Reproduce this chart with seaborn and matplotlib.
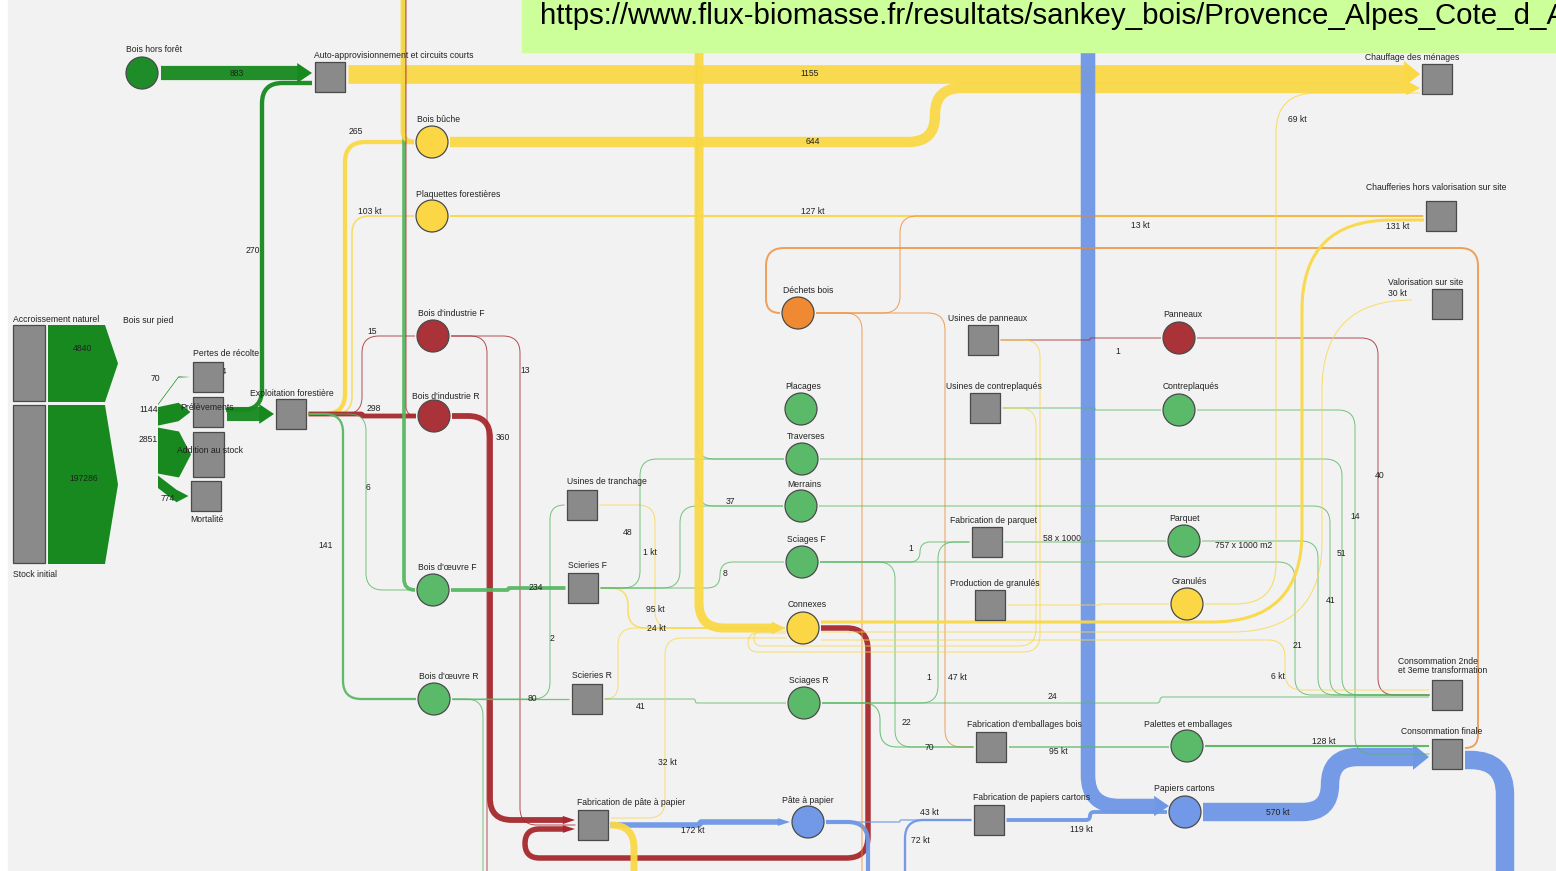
# plot.py
# ─────────────────────────────────────────────────────────────
# Flux de biomasse bois, Provence-Alpes-Côte d'Azur (sankey)
# Run: python plot.py  ->  out.png
# ─────────────────────────────────────────────────────────────

import numpy as np
import pandas as pd
import matplotlib
matplotlib.use('Agg')
import matplotlib.pyplot as plt
import seaborn as sns
from matplotlib.path import Path
from matplotlib.patches import PathPatch, Polygon, Rectangle

sns.set_theme(style='white')
plt.rcParams['font.family'] = ['Liberation Sans', 'DejaVu Sans']

# ── Data: nodes ───────────────────────────────────────────────
CONSO2 = 'Consommation 2nde\net 3eme transformation'
node_names = [
    'Accroissement naturel', 'Stock initial', 'Bois sur pied',
    'Pertes de récolte', 'Prélèvements', 'Addition au stock', 'Mortalité',
    'Exploitation forestière', 'Bois hors forêt',
    'Auto-approvisionnement et circuits courts',
    'Bois bûche', 'Plaquettes forestières',
    "Bois d'industrie F", "Bois d'industrie R", "Bois d'œuvre F", "Bois d'œuvre R",
    'Usines de tranchage', 'Scieries F', 'Scieries R', 'Fabrication de pâte à papier',
    'Déchets bois', 'Placages', 'Traverses', 'Merrains', 'Sciages F', 'Connexes',
    'Sciages R', 'Pâte à papier',
    'Usines de panneaux', 'Usines de contreplaqués', 'Fabrication de parquet',
    'Production de granulés', "Fabrication d'emballages bois",
    'Fabrication de papiers cartons',
    'Panneaux', 'Contreplaqués', 'Parquet', 'Granulés', 'Palettes et emballages',
    'Papiers cartons',
    'Chauffage des ménages', 'Chaufferies hors valorisation sur site',
    'Valorisation sur site', CONSO2, 'Consommation finale',
    # hors cadre
    'Apport bois bûche', "Apport bois d'œuvre", "Apport bois d'industrie",
    'Apport connexes', 'Apport sciages', 'Apport papiers', 'Apport pâte',
    'Sortie pâte', 'Sortie connexes', 'Sortie industrie', 'Sortie œuvre',
    'Sortie déchets', 'Sortie papiers',
]
node_kind = [
    'r', 'r', 'v', 's', 's', 'r', 's', 's', 'c', 's',
    'c', 'c', 'c', 'c', 'c', 'c',
    's', 's', 's', 's',
    'c', 'c', 'c', 'c', 'c', 'c', 'c', 'c',
    's', 's', 's', 's', 's', 's',
    'c', 'c', 'c', 'c', 'c', 'c',
    's', 's', 's', 's', 's',
    'top', 'top', 'top', 'top', 'top', 'top', 'bot',
    'bot', 'bot', 'bot', 'bot', 'bot', 'bot',
]
node_group = [
    'gris', 'gris', 'foret', 'gris', 'gris', 'gris', 'gris', 'gris', 'foret', 'gris',
    'energie', 'energie', 'industrie', 'industrie', 'oeuvre', 'oeuvre',
    'gris', 'gris', 'gris', 'gris',
    'dechets', 'oeuvre', 'oeuvre', 'oeuvre', 'oeuvre', 'energie', 'oeuvre', 'papier',
    'gris', 'gris', 'gris', 'gris', 'gris', 'gris',
    'industrie', 'oeuvre', 'oeuvre', 'energie', 'oeuvre', 'papier',
    'gris', 'gris', 'gris', 'gris', 'gris',
    'energie', 'oeuvre', 'industrie', 'energie', 'oeuvre', 'papier', 'papier',
    'papier', 'energie', 'industrie', 'oeuvre', 'dechets', 'papier',
]

# ── Data: flows (kt) ──────────────────────────────────────────
link_src = [
    'Accroissement naturel', 'Stock initial',
    'Bois sur pied', 'Bois sur pied', 'Bois sur pied', 'Bois sur pied',
    'Prélèvements', 'Prélèvements', 'Bois hors forêt',
    'Auto-approvisionnement et circuits courts',
    'Exploitation forestière', 'Exploitation forestière', 'Exploitation forestière',
    'Exploitation forestière', 'Exploitation forestière', 'Exploitation forestière',
    "Apport bois d'œuvre", 'Apport bois bûche', "Apport bois d'industrie",
    'Bois bûche', 'Plaquettes forestières',
    "Bois d'industrie R", "Bois d'industrie F", "Bois d'industrie F",
    "Bois d'œuvre F", "Bois d'œuvre R", "Bois d'œuvre R", "Bois d'œuvre R",
    'Scieries F', 'Scieries R', 'Usines de tranchage', 'Scieries F', 'Scieries F',
    'Scieries F', 'Apport sciages', 'Apport sciages', 'Apport connexes', 'Scieries R',
    'Connexes', 'Connexes', 'Fabrication de pâte à papier',
    'Fabrication de pâte à papier', 'Pâte à papier', 'Pâte à papier', 'Apport pâte',
    'Fabrication de papiers cartons', 'Apport papiers', 'Papiers cartons',
    'Consommation finale', 'Consommation finale',
    'Déchets bois', 'Déchets bois', 'Déchets bois',
    'Sciages F', 'Sciages R', 'Sciages F', 'Sciages R', 'Sciages R', 'Sciages F',
    'Fabrication de parquet', 'Parquet', "Fabrication d'emballages bois",
    'Palettes et emballages',
    'Usines de panneaux', 'Usines de contreplaqués', 'Usines de panneaux',
    'Usines de contreplaqués',
    'Panneaux', 'Contreplaqués', 'Traverses', 'Merrains',
    'Connexes', 'Granulés', 'Connexes', 'Connexes', 'Production de granulés',
]
link_tgt = [
    'Bois sur pied', 'Bois sur pied',
    'Pertes de récolte', 'Prélèvements', 'Addition au stock', 'Mortalité',
    'Exploitation forestière', 'Auto-approvisionnement et circuits courts',
    'Auto-approvisionnement et circuits courts', 'Chauffage des ménages',
    'Bois bûche', 'Plaquettes forestières', "Bois d'industrie F",
    "Bois d'industrie R", "Bois d'œuvre F", "Bois d'œuvre R",
    "Bois d'œuvre F", 'Bois bûche', "Bois d'industrie R",
    'Chauffage des ménages', 'Chaufferies hors valorisation sur site',
    'Fabrication de pâte à papier', 'Fabrication de pâte à papier', 'Sortie industrie',
    'Scieries F', 'Scieries R', 'Usines de tranchage', 'Sortie œuvre',
    'Connexes', 'Connexes', 'Connexes', 'Traverses', 'Merrains',
    'Sciages F', 'Merrains', 'Traverses', 'Connexes', 'Sciages R',
    'Fabrication de pâte à papier', 'Fabrication de pâte à papier', 'Pâte à papier',
    'Sortie connexes', 'Fabrication de papiers cartons', 'Sortie pâte',
    'Fabrication de papiers cartons',
    'Papiers cartons', 'Papiers cartons', 'Consommation finale',
    'Sortie papiers', 'Déchets bois',
    'Chaufferies hors valorisation sur site', "Fabrication d'emballages bois",
    'Sortie déchets',
    'Fabrication de parquet', 'Fabrication de parquet',
    "Fabrication d'emballages bois", "Fabrication d'emballages bois", CONSO2, CONSO2,
    'Parquet', CONSO2, 'Palettes et emballages', 'Consommation finale',
    'Panneaux', 'Contreplaqués', 'Connexes', 'Connexes',
    CONSO2, 'Consommation finale', CONSO2, CONSO2,
    'Chaufferies hors valorisation sur site', 'Chauffage des ménages',
    'Valorisation sur site', CONSO2, 'Granulés',
]
link_val = [
    4840, 197286,
    70, 1144, 2851, 774,
    874, 270, 883, 1155,
    265, 103, 15, 298, 6, 141,
    228, 300, 4,
    644, 127,
    360, 13, 4,
    234, 80, 2, 3,
    95, 24, 1, 48, 3, 8, 37, 5, 560, 41,
    340, 32, 172, 430, 43, 129, 72,
    119, 451, 570, 570, 120,
    13, 47, 40,
    1, 1, 22, 70, 24, 21,
    58, 12, 95, 128,
    1, 2, 3, 2,
    40, 14, 51, 41,
    190, 69, 30, 6, 40,
]
link_lbl = [
    '4840', '197286',
    '70', '1144', '2851', '774',
    '874', '270', '883', '1155',
    '265', '103 kt', '15', '298', '6', '141',
    '', '', '',
    '644', '127 kt',
    '360', '13', '',
    '234', '80', '2', '',
    '95 kt', '24 kt', '1 kt', '48', '', '8', '37', '', '', '41',
    '', '32 kt', '172 kt', '', '43 kt', '', '72 kt',
    '119 kt', '', '570 kt', '', '',
    '13 kt', '47 kt', '',
    '1', '1', '22', '70', '24', '21',
    '58 x 1000', '757 x 1000 m2', '95 kt', '128 kt',
    '1', '', '', '',
    '40', '14', '51', '41',
    '131 kt', '69 kt', '30 kt', '6 kt', '',
]
link_grp = [
    'foret', 'foret',
    'foret', 'foret', 'foret', 'foret',
    'foret', 'foret', 'foret', 'energie',
    'energie', 'energie', 'industrie', 'industrie', 'oeuvre', 'oeuvre',
    'oeuvre', 'energie', 'industrie',
    'energie', 'energie',
    'industrie', 'industrie', 'industrie',
    'oeuvre', 'oeuvre', 'oeuvre', 'oeuvre',
    'energie', 'energie', 'energie', 'oeuvre', 'oeuvre', 'oeuvre', 'oeuvre', 'oeuvre',
    'energie', 'oeuvre',
    'industrie', 'energie', 'papier', 'energie', 'papier', 'papier', 'papier',
    'papier', 'papier', 'papier', 'papier', 'dechets',
    'dechets', 'dechets', 'dechets',
    'oeuvre', 'oeuvre', 'oeuvre', 'oeuvre', 'oeuvre', 'oeuvre',
    'oeuvre', 'oeuvre', 'oeuvre', 'oeuvre',
    'industrie', 'oeuvre', 'energie', 'energie',
    'industrie', 'oeuvre', 'oeuvre', 'oeuvre',
    'energie', 'energie', 'energie', 'energie', 'energie',
]

URL = 'https://www.flux-biomasse.fr/resultats/sankey_bois/Provence_Alpes_Cote_d_A'

# ── Styles ────────────────────────────────────────────────────
COL = {
    'gris': '#8a8a8a', 'foret': '#17891f', 'energie': '#fad846',
    'industrie': '#a6282e', 'oeuvre': '#57b762', 'dechets': '#ef8a33',
    'papier': '#6e97e6',
}
NODE_COL = dict(COL, foret='#1f8c2a', industrie='#a93338', oeuvre='#5bb96a',
                energie='#fbd645', papier='#7199e8')
PX_PER_KT = 1 / 62
GRP_SCALE = {'papier': 2.0}

# ── Layout (pixels, y down) ───────────────────────────────────
NODE_XY = {
    'Bois sur pied': (158, 404),
    'Pertes de récolte': (208, 377), 'Prélèvements': (208, 412),
    'Mortalité': (206, 496), 'Exploitation forestière': (291, 414),
    'Bois hors forêt': (142, 73), 'Auto-approvisionnement et circuits courts': (330, 77),
    'Bois bûche': (432, 142), 'Plaquettes forestières': (432, 216),
    "Bois d'industrie F": (433, 336), "Bois d'industrie R": (434, 416),
    "Bois d'œuvre F": (433, 590), "Bois d'œuvre R": (434, 699),
    'Usines de tranchage': (582, 505), 'Scieries F': (583, 588),
    'Scieries R': (587, 699), 'Fabrication de pâte à papier': (593, 825),
    'Déchets bois': (798, 313), 'Placages': (801, 409), 'Traverses': (802, 459),
    'Merrains': (801, 506), 'Sciages F': (802, 562), 'Connexes': (803, 628),
    'Sciages R': (804, 703), 'Pâte à papier': (808, 822),
    'Usines de panneaux': (983, 340), 'Usines de contreplaqués': (985, 408),
    'Fabrication de parquet': (987, 542), 'Production de granulés': (990, 605),
    "Fabrication d'emballages bois": (991, 747), 'Fabrication de papiers cartons': (989, 820),
    'Panneaux': (1179, 338), 'Contreplaqués': (1179, 410), 'Parquet': (1184, 541),
    'Granulés': (1187, 604), 'Palettes et emballages': (1187, 746),
    'Papiers cartons': (1185, 812),
    'Chauffage des ménages': (1437, 79), 'Chaufferies hors valorisation sur site': (1441, 216),
    'Valorisation sur site': (1447, 304), CONSO2: (1447, 695),
    'Consommation finale': (1447, 754),
    'Apport bois bûche': (403, -10), "Apport bois d'œuvre": (404, -10),
    "Apport bois d'industrie": (406, -10), 'Apport connexes': (699, -10),
    'Apport sciages': (697, -10), 'Apport papiers': (1088, -10), 'Apport pâte': (905, 885),
    'Sortie pâte': (868, 885), 'Sortie connexes': (634, 885), 'Sortie industrie': (487, 885),
    'Sortie œuvre': (483, 885), 'Sortie déchets': (862, 885), 'Sortie papiers': (1505, 885),
}
RECT_BOX = {  # x0, y0, w, h
    'Accroissement naturel': (13, 325, 32, 76),
    'Stock initial': (13, 405, 32, 158),
    'Addition au stock': (193, 432, 31, 45),
}
for _n, (_x, _y, _w, _h) in RECT_BOX.items():
    NODE_XY[_n] = (_x + _w / 2, _y + _h / 2)

NODE_LABEL = {  # x, y, ha
    'Accroissement naturel': (13, 319, 'left'), 'Stock initial': (13, 574, 'left'),
    'Bois sur pied': (123, 320, 'left'), 'Pertes de récolte': (193, 353, 'left'),
    'Prélèvements': (180, 407, 'left'), 'Addition au stock': (177, 450, 'left'),
    'Mortalité': (190, 519, 'left'), 'Exploitation forestière': (250, 393, 'left'),
    'Bois hors forêt': (126, 50, 'left'),
    'Auto-approvisionnement et circuits courts': (314, 55, 'left'),
    'Bois bûche': (417, 119, 'left'), 'Plaquettes forestières': (416, 194, 'left'),
    "Bois d'industrie F": (418, 313, 'left'), "Bois d'industrie R": (412, 396, 'left'),
    "Bois d'œuvre F": (418, 567, 'left'), "Bois d'œuvre R": (419, 676, 'left'),
    'Usines de tranchage': (567, 481, 'left'), 'Scieries F': (568, 565, 'left'),
    'Scieries R': (572, 675, 'left'), 'Fabrication de pâte à papier': (577, 802, 'left'),
    'Déchets bois': (783, 290, 'left'), 'Placages': (785, 386, 'left'),
    'Traverses': (787, 436, 'left'), 'Merrains': (787, 484, 'left'),
    'Sciages F': (787, 539, 'left'), 'Connexes': (788, 604, 'left'),
    'Sciages R': (789, 680, 'left'), 'Pâte à papier': (782, 800, 'left'),
    'Usines de panneaux': (948, 318, 'left'), 'Usines de contreplaqués': (946, 386, 'left'),
    'Fabrication de parquet': (950, 520, 'left'), 'Production de granulés': (950, 583, 'left'),
    "Fabrication d'emballages bois": (967, 724, 'left'),
    'Fabrication de papiers cartons': (973, 797, 'left'),
    'Panneaux': (1163, 314, 'left'), 'Contreplaqués': (1163, 386, 'left'),
    'Parquet': (1169, 518, 'left'), 'Granulés': (1172, 581, 'left'),
    'Palettes et emballages': (1144, 724, 'left'), 'Papiers cartons': (1154, 788, 'left'),
    'Chauffage des ménages': (1365, 57.5, 'left'),
    'Chaufferies hors valorisation sur site': (1366, 188, 'left'),
    'Valorisation sur site': (1388, 282, 'left'), CONSO2: (1398, 666, 'left'),
    'Consommation finale': (1401, 731, 'left'),
}

# vertical lane x of ordinary links
LINK_VIA = {
    ('Exploitation forestière', 'Bois bûche'): 345,
    ('Exploitation forestière', 'Plaquettes forestières'): 352,
    ('Exploitation forestière', "Bois d'industrie F"): 362,
    ('Exploitation forestière', "Bois d'œuvre F"): 366,
    ('Exploitation forestière', "Bois d'œuvre R"): 343,
    ("Bois d'industrie F", 'Fabrication de pâte à papier'): 520,
    ("Bois d'œuvre R", 'Usines de tranchage'): 550,
    ('Scieries F', 'Connexes'): 628, ('Scieries R', 'Connexes'): 618,
    ('Usines de tranchage', 'Connexes'): 655,
    ('Scieries F', 'Traverses'): 640, ('Scieries F', 'Merrains'): 680,
    ('Scieries F', 'Sciages F'): 720,
    ('Sciages F', 'Fabrication de parquet'): 920, ('Sciages R', 'Fabrication de parquet'): 938,
    ('Sciages F', "Fabrication d'emballages bois"): 895,
    ('Sciages R', "Fabrication d'emballages bois"): 880,
    ('Sciages F', CONSO2): 1295, ('Parquet', CONSO2): 1318, ('Panneaux', CONSO2): 1378,
    ('Contreplaqués', 'Consommation finale'): 1355, ('Traverses', CONSO2): 1342,
    ('Merrains', CONSO2): 1330,
    ('Déchets bois', 'Chaufferies hors valorisation sur site'): 900,
    ('Déchets bois', "Fabrication d'emballages bois"): 945,
    ('Usines de panneaux', 'Panneaux'): 1090, ('Usines de contreplaqués', 'Contreplaqués'): 1095,
    ('Fabrication de parquet', 'Parquet'): 1090, ('Production de granulés', 'Granulés'): 1100,
    ('Pâte à papier', 'Fabrication de papiers cartons'): 900,
    ('Fabrication de papiers cartons', 'Papiers cartons'): 1090,
    ('Fabrication de pâte à papier', 'Pâte à papier'): 700,
}
# links with a hand-drawn route (key includes group)
LINK_PATH = {
    ('Bois hors forêt', 'Auto-approvisionnement et circuits courts', 'foret'): [(161, 73), (312, 73)],
    ('Prélèvements', 'Auto-approvisionnement et circuits courts', 'foret'):
        [(226, 410), (262, 410), (262, 83), (312, 83)],
    ('Prélèvements', 'Exploitation forestière', 'foret'): [(227, 414), (274, 414)],
    ('Auto-approvisionnement et circuits courts', 'Chauffage des ménages', 'energie'):
        [(348, 74), (1420, 74)],
    ('Bois bûche', 'Chauffage des ménages', 'energie'):
        [(450, 142), (935, 142), (935, 88), (1420, 88)],
    ('Granulés', 'Chauffage des ménages', 'energie'):
        [(1205, 604), (1276, 604), (1276, 93), (1420, 93)],
    ('Consommation finale', 'Déchets bois', 'dechets'):
        [(1465, 748), (1478, 748), (1478, 248), (766, 248), (766, 313), (780, 313)],
    ('Connexes', 'Fabrication de pâte à papier', 'industrie'):
        [(821, 628), (868, 628), (868, 858), (525, 858), (525, 829), (575, 829)],
    ('Connexes', 'Fabrication de pâte à papier', 'energie'):
        [(787, 638), (665, 638), (665, 818), (611, 818)],
    ("Bois d'industrie R", 'Fabrication de pâte à papier', 'industrie'):
        [(452, 416), (490, 416), (490, 820), (575, 820)],
    ('Usines de panneaux', 'Connexes', 'energie'):
        [(1001, 340), (1040, 340), (1040, 652), (748, 652), (748, 633), (786, 633)],
    ('Usines de contreplaqués', 'Connexes', 'energie'):
        [(1003, 408), (1036, 408), (1036, 646), (754, 646), (754, 631), (786, 631)],
    ('Connexes', 'Chaufferies hors valorisation sur site', 'energie'):
        [(821, 622), (1302, 622), (1302, 220), (1424, 220)],
    ('Connexes', 'Valorisation sur site', 'energie'):
        [(821, 632), (1322, 632), (1322, 300), (1412, 300)],
    ('Connexes', CONSO2, 'energie'): [(821, 640), (1285, 640), (1285, 690), (1429, 690)],
    ('Sciages R', CONSO2, 'oeuvre'): [(822, 703), (1160, 703), (1160, 697), (1429, 697)],
    ('Palettes et emballages', 'Consommation finale', 'oeuvre'): [(1205, 746), (1429, 746)],
    ("Fabrication d'emballages bois", 'Palettes et emballages', 'oeuvre'):
        [(1009, 747), (1169, 747)],
    ('Papiers cartons', 'Consommation finale', 'papier'):
        [(1203, 812), (1330, 812), (1330, 757), (1429, 757)],
    ('Apport papiers', 'Papiers cartons', 'papier'): [(1088, -10), (1088, 806), (1169, 806)],
    ('Consommation finale', 'Sortie papiers', 'papier'): [(1465, 760), (1505, 760), (1505, 885)],
}
LINK_RADIUS = {
    ('Connexes', 'Chaufferies hors valorisation sur site', 'energie'): 90,
    ('Connexes', 'Valorisation sur site', 'energie'): 90,
    ('Granulés', 'Chauffage des ménages', 'energie'): 40,
    ('Papiers cartons', 'Consommation finale', 'papier'): 40,
}
LINK_LABEL_XY = {
    '4840': (83, 348), '197286': (84, 478), '70': (155, 378), '1144': (149, 409),
    '2851': (148, 439), '774': (168, 498), '874': (220, 371), '270': (253, 250),
    '883': (237, 73), '1155': (810, 74), '265': (356, 131), '103 kt': (370, 211),
    '15': (372, 331), '298': (374, 408), '6': (368, 487), '141': (326, 545),
    '644': (813, 141), '127 kt': (813, 211), '360': (503, 437), '13': (525, 370),
    '234': (536, 587), '80': (532, 698), '2': (552, 638), '95 kt': (655, 609),
    '24 kt': (656, 628), '1 kt': (650, 552), '48': (628, 532), '8': (725, 573),
    '37': (730, 501), '41': (641, 706), '32 kt': (667, 762), '172 kt': (693, 830),
    '43 kt': (929, 812), '72 kt': (920, 840), '119 kt': (1081, 829), '570 kt': (1278, 812),
    '13 kt': (1140, 225), '47 kt': (957, 677), '22': (906, 722), '70 ': (929, 747),
    '24': (1052, 696), '21': (1297, 645), '58 x 1000': (1062, 538),
    '757 x 1000 m2': (1244, 545), '95 kt ': (1058, 751), '128 kt': (1324, 741),
    '40': (1380, 475), '14': (1355, 516), '51': (1341, 553), '41 ': (1331, 600),
    '131 kt': (1398, 226), '69 kt': (1297, 119), '30 kt': (1397, 293), '6 kt': (1278, 676),
}
# labels used twice get a distinct key by link
LABEL_KEY = {
    ('Sciages R', "Fabrication d'emballages bois"): '70 ',
    ("Fabrication d'emballages bois", 'Palettes et emballages'): '95 kt ',
    ('Merrains', CONSO2): '41 ',
    ('Sciages F', 'Fabrication de parquet'): '1a',
    ('Sciages R', 'Fabrication de parquet'): '1b',
    ('Usines de panneaux', 'Panneaux'): '1c',
}
LINK_LABEL_XY.update({'1a': (911, 548), '1b': (929, 677), '1c': (1118, 351)})

KIND = dict(zip(node_names, node_kind))
GROUP = dict(zip(node_names, node_group))


def half(name):
    k = KIND[name]
    if k == 'c':
        return 16
    if k == 's':
        return 15.5
    if k == 'r':
        return RECT_BOX[name][2] / 2
    return 0


def route(s, t, grp):
    if (s, t, grp) in LINK_PATH:
        return LINK_PATH[(s, t, grp)]
    sx, sy = NODE_XY[s]
    tx, ty = NODE_XY[t]
    if KIND[s] in ('top', 'bot'):
        return [(sx, sy), (sx, ty), (tx - half(t) - 2, ty)]
    x0 = sx + half(s) + 2
    if KIND[t] == 'bot':
        return [(x0, sy), (tx, sy), (tx, ty)]
    x1 = tx - half(t) - 2
    if abs(sy - ty) < 0.5:
        return [(x0, sy), (x1, ty)]
    vx = LINK_VIA.get((s, t), (x0 + x1) / 2)
    return [(x0, sy), (vx, sy), (vx, ty), (x1, ty)]


def rounded(pts, R):
    verts, codes = [pts[0]], [Path.MOVETO]
    for i in range(1, len(pts) - 1):
        p0, p1, p2 = (np.array(p, float) for p in pts[i - 1:i + 2])
        d1, d2 = p1 - p0, p2 - p1
        l1, l2 = np.hypot(*d1), np.hypot(*d2)
        r = min(R, l1 / 2 if i > 1 else l1, l2 / 2 if i < len(pts) - 2 else l2)
        a, b = p1 - d1 / l1 * r, p1 + d2 / l2 * r
        verts += [tuple(a), tuple(p1), tuple(b)]
        codes += [Path.LINETO, Path.CURVE3, Path.CURVE3]
    verts.append(pts[-1])
    codes.append(Path.LINETO)
    return Path(verts, codes)


# ── Figure ────────────────────────────────────────────────────
fig = plt.figure(figsize=(15.56, 8.71), dpi=100, facecolor='white')
ax = fig.add_axes([0, 0, 1, 1])
ax.set_xlim(0, 1556)
ax.set_ylim(871, 0)
ax.axis('off')
ax.add_patch(Rectangle((8, 0), 1548, 871, color='#f2f2f2', zorder=0))

FS = 6.2
wedge_y = NODE_XY['Bois sur pied'][1]

for s, t, v, lbl, g in zip(link_src, link_tgt, link_val, link_lbl, link_grp):
    c = COL[g]
    w = max(v * PX_PER_KT * GRP_SCALE.get(g, 1), 1.0)
    if t == 'Bois sur pied':
        # broad arrow out of the stock boxes
        x0, y0, bw, bh = RECT_BOX[s]
        h = min(w, bh + 1)
        xl = x0 + bw + 3
        ax.add_patch(Polygon([(xl, y0), (xl + 57, y0), (xl + 70, y0 + h / 2),
                              (xl + 57, y0 + h), (xl, y0 + h)], color=c, lw=0, zorder=2))
    elif s == 'Bois sur pied':
        tx, ty = NODE_XY[t]
        x1 = tx - half(t) - 2
        x0 = NODE_XY[s][0]
        ax.add_patch(Polygon([(x0, wedge_y), (x1 - 12, ty - w / 2), (x1, ty),
                              (x1 - 12, ty + w / 2), (x0, wedge_y + w)],
                             color=c, lw=0, zorder=2))
        wedge_y += w + 2
    else:
        pts = [tuple(p) for p in route(s, t, g)]
        arrow = (w >= 5 and KIND[t] != 'bot' and pts[-1][1] == pts[-2][1]
                 and pts[-1][0] > pts[-2][0])
        if arrow:
            al = 10 + w * 0.3
            ex, ey = pts[-1]
            pts[-1] = (ex - al, ey)
            ax.add_patch(Polygon([(ex - al - 0.5, ey - w * 0.7), (ex, ey),
                                  (ex - al - 0.5, ey + w * 0.7)], color=c, lw=0, zorder=2))
        R = LINK_RADIUS.get((s, t, g), 16 + w)
        ax.add_patch(PathPatch(rounded(pts, R), fill=False, edgecolor=c, lw=w * 0.72,
                               alpha=0.95 if w >= 2 else 0.8, capstyle='butt',
                               joinstyle='round', zorder=2))
    if lbl:
        key = LABEL_KEY.get((s, t), lbl)
        lx, ly = LINK_LABEL_XY[key]
        ax.text(lx, ly, lbl, fontsize=FS, color='#222222', ha='center', va='center', zorder=3)

# ── Nodes ─────────────────────────────────────────────────────
nodes = pd.DataFrame({'name': node_names, 'kind': node_kind, 'group': node_group})
nodes = nodes[nodes['kind'].isin(['c', 's'])].copy()
nodes['x'] = [NODE_XY[n][0] for n in nodes['name']]
nodes['y'] = [NODE_XY[n][1] for n in nodes['name']]
sns.scatterplot(data=nodes, x='x', y='y', hue='group', palette=NODE_COL,
                style='kind', markers={'c': 'o', 's': 's'},
                size='kind', sizes={'c': 530, 's': 490},
                edgecolor='#4a4a4a', linewidth=0.9, legend=False, ax=ax, zorder=5)
ax.set_xlim(0, 1556)
ax.set_ylim(871, 0)
ax.axis('off')
for n, (x0, y0, bw, bh) in RECT_BOX.items():
    ax.add_patch(Rectangle((x0, y0), bw, bh, facecolor=COL['gris'], edgecolor='#4a4a4a',
                           lw=0.9, zorder=5))

for n, (lx, ly, ha) in NODE_LABEL.items():
    ax.text(lx, ly, n, fontsize=FS, color='#222222', ha=ha, va='center',
            linespacing=0.95, zorder=6)

# ── URL banner ────────────────────────────────────────────────
ax.add_patch(Rectangle((522, 0), 1034, 52, color='#ccff99', zorder=10))
ax.text(540, 16, URL, fontsize=21.2, color='black', ha='left', va='center', zorder=11)

plt.savefig('out.png', dpi=100)
plt.close()
